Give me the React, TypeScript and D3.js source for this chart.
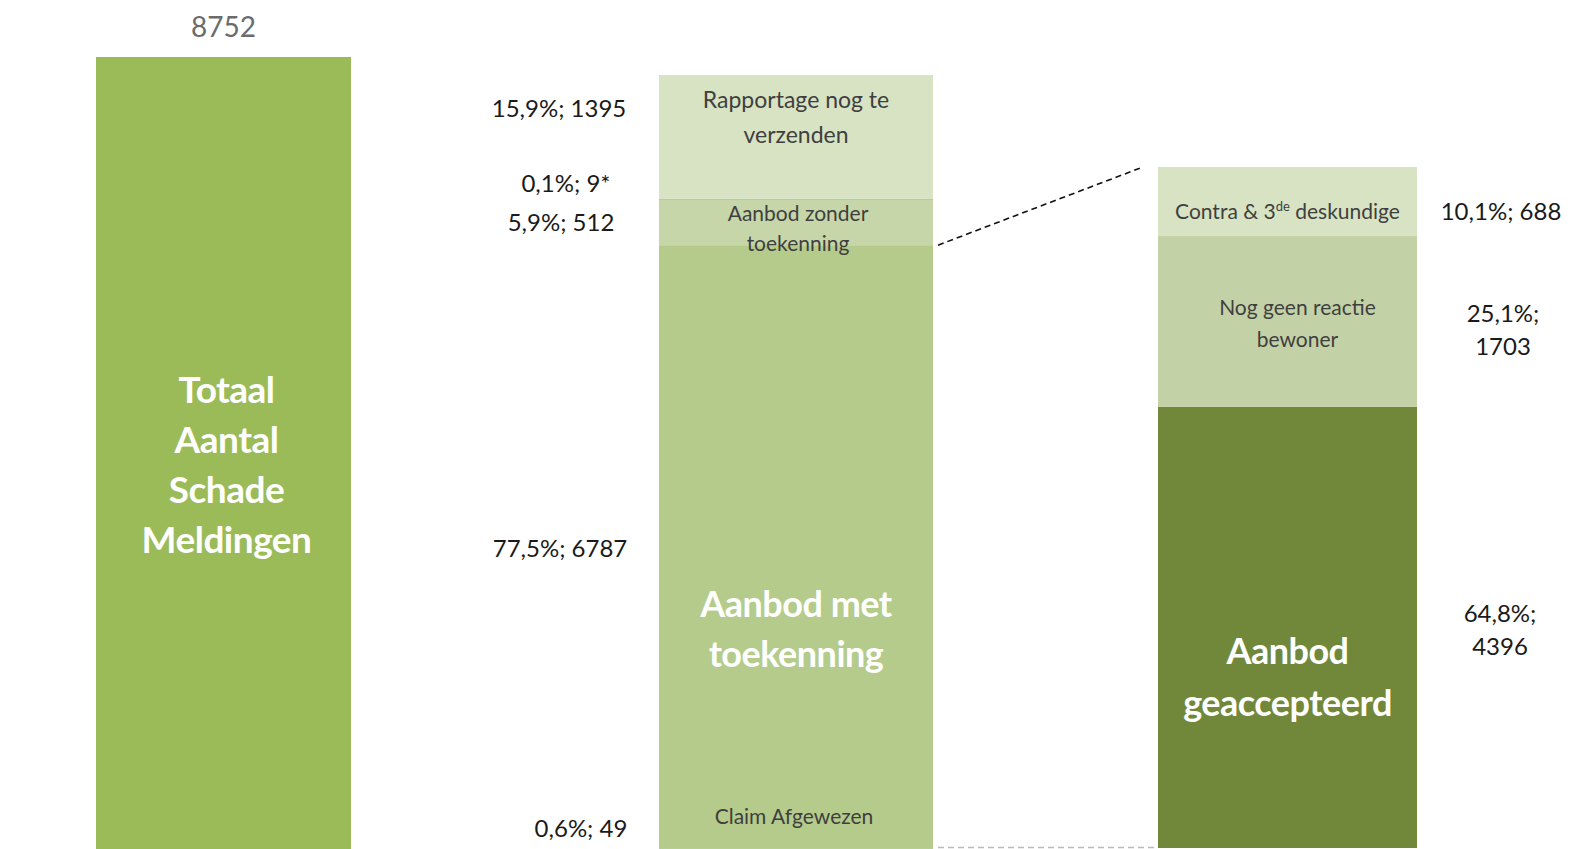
import React from "react";
import * as d3 from "d3";

// ---- data ----
const totalValue = 8752;
const totalLines = ["Totaal", "Aantal", "Schade", "Meldingen"];

// middle column, bottom -> top
const midKeys = ["afgewezen", "met", "zonder", "zonder9", "rapportage"];
const midNames = ["Claim Afgewezen", "Aanbod met toekenning", "Aanbod zonder toekenning", "", "Rapportage nog te verzenden"];
const midValues = [49, 6787, 512, 9, 1395];
const midPct = ["0,6%", "77,5%", "5,9%", "0,1%", "15,9%"];
const midNote = ["", "", "", "*", ""];

// right column (breakdown of "Aanbod met toekenning"), bottom -> top
const rightKeys = ["geaccepteerd", "geenreactie", "contra"];
const rightValues = [4396, 1703, 688];
const rightPct = ["64,8%", "25,1%", "10,1%"];

const FONT = "Lato, 'Open Sans', sans-serif";

export default function App() {
  const W = 1572;
  const H = 849;

  // columns
  const x = d3.scaleOrdinal<string, [number, number]>()
    .domain(["total", "mid", "right"])
    .range([[96, 351], [659, 933], [1158, 1417]]);

  const yTotal = d3.scaleLinear().domain([0, totalValue]).range([852, 57]);
  const midSum = d3.sum(midValues);
  const yMid = d3.scaleLinear().domain([0, midSum]).range([852.4, 75]);
  const rightSum = d3.sum(rightValues);
  const yRight = d3.scaleLinear().domain([0, rightSum]).range([848, 167]);

  const midColors: Record<string, string> = {
    afgewezen: "#b5cb8b",
    met: "#b5cb8b",
    zonder9: "#b3c88c",
    zonder: "#c6d6a9",
    rapportage: "#d8e3c4",
  };
  const rightColors: Record<string, string> = {
    geaccepteerd: "#71883b",
    geenreactie: "#c3d2a6",
    contra: "#d8e3c4",
  };

  const stackCum = (vals: number[]) => {
    let acc = 0;
    return vals.map((v) => {
      const s = acc;
      acc += v;
      return [s, acc] as [number, number];
    });
  };
  const midStack = stackCum(midValues);
  const rightStack = stackCum(rightValues);

  const [tx0, tx1] = x("total");
  const [mx0, mx1] = x("mid");
  const [rx0, rx1] = x("right");
  const mcx = (mx0 + mx1) / 2;
  const rcx = (rx0 + rx1) / 2;

  const midCenter = (i: number) => (yMid(midStack[i][0]) + yMid(midStack[i][1])) / 2;
  const rightCenter = (i: number) => (yRight(rightStack[i][0]) + yRight(rightStack[i][1])) / 2;

  // value labels to the left of the middle column: [index, x, dy]
  const midValueLabelPos: [number, number, number][] = [
    [0, 581, -13],
    [1, 560, 10],
    [2, 561, 9],
    [3, 566, -7],
    [4, 559, -20],
  ];

  const dark = "#3f3f3f";

  return (
    <svg width={W} height={H} style={{ position: "absolute", left: 0, top: 0, background: "#fff" }} fontFamily={FONT}>
      {/* total bar */}
      <rect x={tx0} y={yTotal(totalValue)} width={tx1 - tx0} height={yTotal(0) - yTotal(totalValue)} fill="#9bbb59" />
      <text x={(tx0 + tx1) / 2} y={yTotal(totalValue) - 20} textAnchor="middle" fontSize={28} fill="#6b6b6b">
        {totalValue}
      </text>
      {totalLines.map((t, i) => (
        <text key={t} x={(tx0 + tx1) / 2 + 3} y={403 + i * 50} textAnchor="middle" fontSize={37} fontWeight={700} fill="#fff" letterSpacing={-0.5}>
          {t}
        </text>
      ))}

      {/* middle stack */}
      {midKeys.map((k, i) => (
        <rect
          key={k}
          x={mx0}
          width={mx1 - mx0}
          y={yMid(midStack[i][1])}
          height={Math.max(1, yMid(midStack[i][0]) - yMid(midStack[i][1]))}
          fill={midColors[k]}
        />
      ))}
      {/* labels inside middle stack */}
      <text textAnchor="middle" fontSize={23} fill={dark}>
        <tspan x={mcx} y={midCenter(4) - 29}>Rapportage nog te</tspan>
        <tspan x={mcx} y={midCenter(4) + 6}>verzenden</tspan>
      </text>
      <text textAnchor="middle" fontSize={21} fill={dark}>
        <tspan x={mcx + 2} y={midCenter(2) - 1}>Aanbod zonder</tspan>
        <tspan x={mcx + 2} y={midCenter(2) + 29}>toekenning</tspan>
      </text>
      <text textAnchor="middle" fontSize={36} fontWeight={700} fill="#fff" letterSpacing={-0.5}>
        <tspan x={mcx} y={617}>Aanbod met</tspan>
        <tspan x={mcx} y={667}>toekenning</tspan>
      </text>
      <text x={mcx - 2} y={yMid(midStack[0][1]) - 24} textAnchor="middle" fontSize={21} fill={dark}>
        {midNames[0]}
      </text>

      {/* value labels middle */}
      {midValueLabelPos.map(([i, lx, dy]) => (
        <text
          key={midKeys[i]}
          x={lx}
          y={midCenter(i) + dy}
          textAnchor="middle"
          fontSize={24}
          fill="#1a1a1a"
        >
          {`${midPct[i]}; ${midValues[i]}${midNote[i]}`}
        </text>
      ))}

      {/* connector lines */}
      <line
        x1={mx1 + 5}
        y1={yMid(midStack[1][1])}
        x2={rx0 - 15}
        y2={yRight(rightSum)}
        stroke="#111"
        strokeWidth={1.6}
        strokeDasharray="6,4"
      />
      <line
        x1={mx1 + 5}
        y1={yMid(midStack[1][0]) - 0.5}
        x2={rx0}
        y2={yRight(0) - 0.5}
        stroke="#bbbbbb"
        strokeWidth={1.5}
        strokeDasharray="6,4"
      />

      {/* right stack */}
      {rightKeys.map((k, i) => (
        <rect
          key={k}
          x={rx0}
          width={rx1 - rx0}
          y={yRight(rightStack[i][1])}
          height={yRight(rightStack[i][0]) - yRight(rightStack[i][1])}
          fill={rightColors[k]}
        />
      ))}
      <text x={rcx} y={rightCenter(2) + 17} textAnchor="middle" fontSize={21} fill={dark}>
        Contra &amp; 3<tspan fontSize={13} dy={-8}>de</tspan>
        <tspan dy={8}> deskundige</tspan>
      </text>
      <text textAnchor="middle" fontSize={21} fill={dark}>
        <tspan x={rcx + 10} y={rightCenter(1) - 6}>Nog geen reactie</tspan>
        <tspan x={rcx + 10} y={rightCenter(1) + 26}>bewoner</tspan>
      </text>
      <text textAnchor="middle" fontSize={36} fontWeight={700} fill="#fff" letterSpacing={-0.5}>
        <tspan x={rcx} y={664}>Aanbod</tspan>
        <tspan x={rcx} y={716}>geaccepteerd</tspan>
      </text>

      {/* value labels right */}
      <text x={1501} y={rightCenter(2) + 18} textAnchor="middle" fontSize={24} fill="#1a1a1a">
        {`${rightPct[2]}; ${rightValues[2]}`}
      </text>
      <text textAnchor="middle" fontSize={24} fill="#1a1a1a">
        <tspan x={1503} y={rightCenter(1) + 1}>{`${rightPct[1]};`}</tspan>
        <tspan x={1503} y={rightCenter(1) + 34}>{`${rightValues[1]}`}</tspan>
      </text>
      <text textAnchor="middle" fontSize={24} fill="#1a1a1a">
        <tspan x={1500} y={622}>{`${rightPct[0]};`}</tspan>
        <tspan x={1500} y={655}>{`${rightValues[0]}`}</tspan>
      </text>
    </svg>
  );
}
